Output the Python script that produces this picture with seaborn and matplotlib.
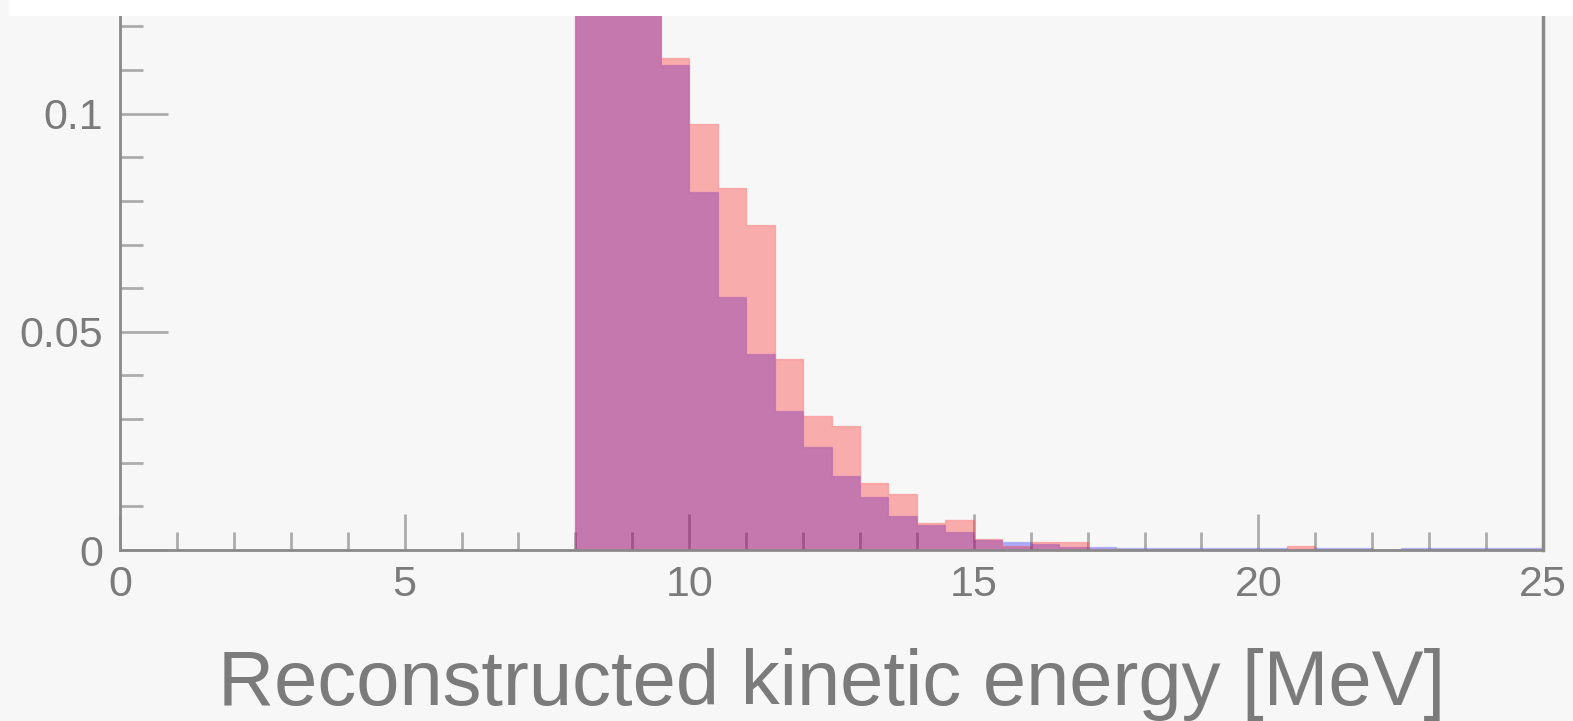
import numpy as np
import pandas as pd
import matplotlib
matplotlib.use('Agg')
import matplotlib.pyplot as plt
import seaborn as sns
from matplotlib.ticker import MultipleLocator, FuncFormatter

# bin lower edges [MeV], 0.5 MeV wide; everything below 8 MeV is empty
bin_lo = np.arange(0, 25, 0.5)

# values from 8.0 MeV up (34 bins); the first three are cut off at the top of the picture
red_vals = [0.165, 0.155, 0.135, 0.1128, 0.0976, 0.0830, 0.0745, 0.0437,
            0.0308, 0.0284, 0.0154, 0.0128, 0.0062, 0.0069, 0.0026, 0.0010,
            0.0019, 0.0018, 0.0003, 0.0001, 0.0001, 0.0001, 0.0001, 0.0001,
            0.0001, 0.0010, 0.0001, 0.0001, 0.0000, 0.0001, 0.0001, 0.0001,
            0.0000, 0.0001]
blue_vals = [0.170, 0.160, 0.140, 0.1112, 0.0820, 0.0580, 0.0449, 0.0318,
             0.0235, 0.0169, 0.0122, 0.0079, 0.0057, 0.0042, 0.0024, 0.0018,
             0.0014, 0.0007, 0.0008, 0.0004, 0.0004, 0.0004, 0.0004, 0.0004,
             0.0004, 0.0003, 0.0004, 0.0004, 0.0001, 0.0004, 0.0004, 0.0004,
             0.0004, 0.0005]

n_empty = len(bin_lo) - len(red_vals)
df = pd.DataFrame({
    'E': bin_lo + 0.25,
    'red': np.concatenate([np.zeros(n_empty), red_vals]),
    'blue': np.concatenate([np.zeros(n_empty), blue_vals]),
})

sns.set_theme(style='white')
plt.rcParams['font.family'] = ['Liberation Sans', 'DejaVu Sans']

bg = '#f7f7f7'
grey_txt = '#7b7b7b'

fig = plt.figure(figsize=(15.73, 7.21), dpi=100, facecolor=bg)
ax = fig.add_axes([120/1573, 1 - 550/721, (1543 - 120)/1573, (550 - 16)/721])
ax.set_facecolor(bg)

sns.histplot(data=df, x='E', weights='blue', binwidth=0.5, binrange=(0, 25),
             element='step', fill=True, color=(0, 0, 1), alpha=0.3,
             edgecolor=(0.4, 0.4, 1, 0.3), linewidth=1.0, ax=ax)
sns.histplot(data=df, x='E', weights='red', binwidth=0.5, binrange=(0, 25),
             element='step', fill=True, color=(1, 0, 0), alpha=0.3,
             edgecolor=(1, 0.35, 0.35, 0.35), linewidth=1.0, ax=ax)

ax.set_xlim(0, 25)
ax.set_ylim(0, 0.1224)
ax.set_ylabel('')

ax.xaxis.set_major_locator(MultipleLocator(5))
ax.xaxis.set_minor_locator(MultipleLocator(1))
ax.yaxis.set_major_locator(MultipleLocator(0.05))
ax.yaxis.set_minor_locator(MultipleLocator(0.01))
ax.yaxis.set_major_formatter(FuncFormatter(lambda v, p: '%g' % round(v, 4)))
ax.xaxis.set_major_formatter(FuncFormatter(lambda v, p: '%g' % v))

ax.tick_params(axis='both', which='both', direction='in', colors='#acacac',
               width=2, labelcolor=grey_txt, labelsize=31)
ax.tick_params(axis='x', which='major', length=26, pad=10.5, bottom=True)
ax.tick_params(axis='x', which='minor', length=13, bottom=True)
ax.tick_params(axis='y', which='major', length=34.5, pad=12, left=True)
ax.tick_params(axis='y', which='minor', length=16.5, left=True)

for side in ['left', 'bottom', 'right']:
    ax.spines[side].set_color('#8a8a8a')
    ax.spines[side].set_linewidth(2)
ax.spines['right'].set_linewidth(2.5)
ax.spines['top'].set_visible(False)

ax.set_xlabel('Reconstructed kinetic energy [MeV]', fontsize=56, color=grey_txt,
              va='baseline')
ax.xaxis.set_label_coords(0.5, (550 - 705)/534)

# white strip along the top edge of the crop
fig.add_artist(plt.Rectangle((9/1573, 1 - 16/721), 1, 16/721, transform=fig.transFigure,
                             facecolor='white', edgecolor='none', zorder=10))

fig.savefig('out.png', dpi=100, facecolor=bg)
